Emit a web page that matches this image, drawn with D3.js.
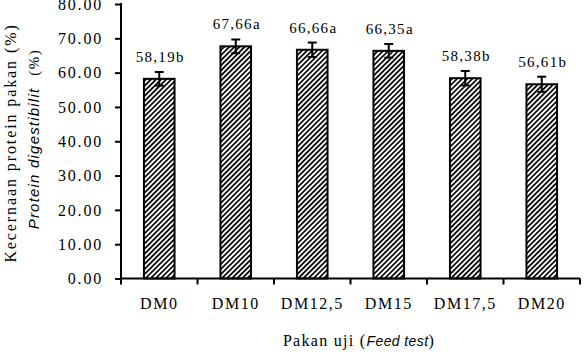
<!DOCTYPE html>
<html>
<head>
<meta charset="utf-8">
<script src="https://cdn.jsdelivr.net/npm/d3@7"></script>
<style>
  body { margin: 0; background: #fff; }
  svg { display: block; }
  .serif { font-family: "Liberation Serif", "Times New Roman", serif; }
  .sans-i { font-family: "Liberation Sans", Arial, sans-serif; font-style: italic; }
</style>
</head>
<body>
<div id="chart"></div>
<script>
// data
var categories = ["DM0", "DM10", "DM12,5", "DM15", "DM17,5", "DM20"];
var values = [58.19, 67.66, 66.66, 66.35, 58.38, 56.61];
var errors = [2.0, 2.0, 2.1, 2.0, 2.1, 2.2];
var labels = ["58,19b", "67,66a", "66,66a", "66,35a", "58,38b", "56,61b"];
var yTicks = [0, 10, 20, 30, 40, 50, 60, 70, 80];

var width = 584, height = 358;
var plotLeft = 121, plotRight = 580, plotTop = 4, plotBottom = 278.5;

var svg = d3.select("#chart").append("svg")
    .attr("width", width)
    .attr("height", height);

// diagonal hatch
var defs = svg.append("defs");
var pat = defs.append("pattern")
    .attr("id", "hatch")
    .attr("patternUnits", "userSpaceOnUse")
    .attr("width", 3.6)
    .attr("height", 3.6)
    .attr("patternTransform", "rotate(45)");
pat.append("rect").attr("width", 3.6).attr("height", 3.6).attr("fill", "#fff");
pat.append("line")
    .attr("x1", 0.9).attr("y1", 0).attr("x2", 0.9).attr("y2", 3.6)
    .attr("stroke", "#000").attr("stroke-width", 1.7);

var x = d3.scaleBand()
    .domain(categories)
    .range([plotLeft, plotRight])
    .paddingInner(0.6)
    .paddingOuter(0.3);

var y = d3.scaleLinear()
    .domain([0, 80])
    .range([plotBottom, plotTop]);

var data = categories.map(function(c, i) {
    return {cat: c, val: values[i], err: errors[i], label: labels[i]};
});

function cx(d) { return x(d.cat) + x.bandwidth() / 2; }

// bars
svg.selectAll("rect.bar")
    .data(data)
    .enter().append("rect")
    .attr("class", "bar")
    .attr("x", function(d) { return x(d.cat); })
    .attr("y", function(d) { return y(d.val); })
    .attr("width", x.bandwidth())
    .attr("height", function(d) { return y(0) - y(d.val); })
    .attr("fill", "url(#hatch)")
    .attr("stroke", "#000")
    .attr("stroke-width", 2);

// error bars
var eb = svg.selectAll("g.err")
    .data(data)
    .enter().append("g")
    .attr("class", "err")
    .attr("stroke", "#000")
    .attr("stroke-width", 2);
eb.append("line")
    .attr("x1", cx).attr("x2", cx)
    .attr("y1", function(d) { return y(d.val + d.err); })
    .attr("y2", function(d) { return y(d.val - d.err); });
eb.append("line")
    .attr("x1", function(d) { return cx(d) - 4.5; })
    .attr("x2", function(d) { return cx(d) + 4.5; })
    .attr("y1", function(d) { return y(d.val + d.err); })
    .attr("y2", function(d) { return y(d.val + d.err); });
eb.append("line")
    .attr("x1", function(d) { return cx(d) - 4.5; })
    .attr("x2", function(d) { return cx(d) + 4.5; })
    .attr("y1", function(d) { return y(d.val - d.err); })
    .attr("y2", function(d) { return y(d.val - d.err); });

// value labels
svg.selectAll("text.val")
    .data(data)
    .enter().append("text")
    .attr("class", "val serif")
    .attr("x", function(d) { return cx(d) + 1; })
    .attr("y", function(d) { return y(d.val + d.err) - 10; })
    .attr("text-anchor", "middle")
    .attr("font-size", 15)
    .attr("letter-spacing", 1.3)
    .text(function(d) { return d.label; });

// y axis
var yAxis = svg.append("g")
    .attr("transform", "translate(" + plotLeft + ",0)")
    .call(d3.axisLeft(y).tickValues(yTicks).tickSize(6).tickPadding(12)
        .tickFormat(function(d) { return d3.format(".2f")(d); }));
yAxis.select(".domain").attr("stroke-width", 2).attr("d", "M0," + (plotTop - 1) + "V" + plotBottom);
yAxis.selectAll(".tick line").attr("stroke-width", 2);
yAxis.selectAll("text")
    .attr("class", "serif")
    .attr("font-size", 16)
    .attr("letter-spacing", 1.8)
    .attr("fill", "#000");

// x axis line and boundary ticks
var xAxis = svg.append("g")
    .attr("transform", "translate(0," + plotBottom + ")");
xAxis.append("line")
    .attr("x1", plotLeft).attr("x2", plotRight)
    .attr("stroke", "#000").attr("stroke-width", 2);
var bounds = d3.range(categories.length + 1).map(function(i) { return plotLeft + i * x.step(); });
xAxis.selectAll("line.bt")
    .data(bounds)
    .enter().append("line")
    .attr("class", "bt")
    .attr("x1", function(d) { return d; })
    .attr("x2", function(d) { return d; })
    .attr("y1", 0).attr("y2", 6)
    .attr("stroke", "#000").attr("stroke-width", 2);
xAxis.selectAll("text.cat")
    .data(categories)
    .enter().append("text")
    .attr("class", "cat serif")
    .attr("x", function(d) { return x(d) + x.bandwidth() / 2; })
    .attr("y", 30)
    .attr("text-anchor", "middle")
    .attr("font-size", 16)
    .attr("letter-spacing", 1.5)
    .text(function(d) { return d; });

// x title
var xt = svg.append("text")
    .attr("class", "serif")
    .attr("x", 359)
    .attr("y", 346)
    .attr("text-anchor", "middle")
    .attr("font-size", 16)
    .attr("letter-spacing", 1.3);
xt.append("tspan").text("Pakan uji (");
xt.append("tspan").attr("class", "sans-i").attr("font-size", 14).attr("letter-spacing", 0.4).text("Feed test");
xt.append("tspan").text(")");

// y title, two lines
svg.append("text")
    .attr("class", "serif")
    .attr("transform", "translate(16,143) rotate(-90)")
    .attr("text-anchor", "middle")
    .attr("font-size", 16)
    .attr("letter-spacing", 1.9)
    .text("Kecernaan protein pakan (%)");
var yt2 = svg.append("text")
    .attr("transform", "translate(39,139) rotate(-90)")
    .attr("text-anchor", "middle")
    .attr("font-size", 15);
yt2.append("tspan").attr("class", "sans-i").attr("letter-spacing", 1.2).text("Protein digestibilit");
yt2.append("tspan").attr("class", "serif").attr("letter-spacing", 1.5).attr("dx", 12).text("(%)");
</script>
</body>
</html>
